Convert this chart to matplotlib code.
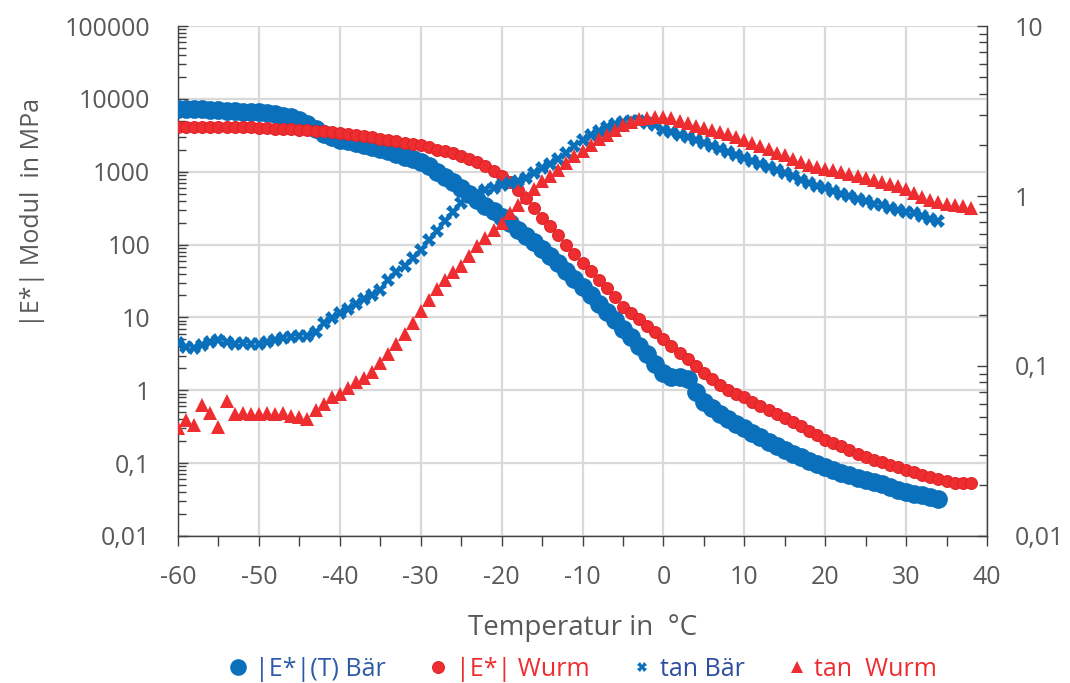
import matplotlib
matplotlib.use("Agg")
import matplotlib.pyplot as plt
from matplotlib.ticker import FixedLocator, NullFormatter, LogLocator, MultipleLocator
import numpy as np

plt.rcParams['font.family'] = ['Open Sans', 'DejaVu Sans']

# ---- data ----
temp_baer = list(range(-60, 35))   # -60 .. 34 °C
temp_wurm = list(range(-60, 39))   # -60 .. 38 °C

E_baer = [7300, 7300, 7250, 7200, 7100, 7000, 6900, 6800, 6700, 6600,
          6500, 6300, 6100, 5900, 5600, 5200, 4500, 3800, 3300, 3000,
          2750, 2600, 2450, 2350, 2200, 2050, 1900, 1750, 1600, 1480,
          1350, 1180, 1000, 850, 720, 590, 490, 410, 340, 285,
          240, 195, 160, 130, 108, 88, 70, 55, 43, 34,
          26, 20, 15.5, 12, 9.2, 7.0, 5.4, 4.1, 3.1, 2.3,
          1.7, 1.5, 1.5, 1.45, 0.95, 0.7, 0.57, 0.47, 0.4, 0.34,
          0.30, 0.26, 0.225, 0.195, 0.17, 0.15, 0.135, 0.12, 0.108, 0.098,
          0.089, 0.081, 0.074, 0.068, 0.063, 0.059, 0.055, 0.051, 0.047, 0.043,
          0.040, 0.038, 0.036, 0.034, 0.032]

E_wurm = [4150, 4150, 4150, 4100, 4100, 4100, 4100, 4050, 4050, 4050,
          4000, 3950, 3900, 3850, 3800, 3750, 3700, 3650, 3600, 3500,
          3400, 3300, 3200, 3100, 3000, 2850, 2700, 2600, 2500, 2400,
          2300, 2150, 2000, 1900, 1800, 1650, 1500, 1350, 1180, 1020,
          880, 720, 560, 430, 320, 235, 180, 135, 100, 75,
          56, 43, 33, 25, 19, 14, 11.5, 9.4, 7.7, 6.3,
          5.1, 4.1, 3.3, 2.7, 2.15, 1.75, 1.45, 1.2, 1.02, 0.9,
          0.80, 0.69, 0.60, 0.53, 0.47, 0.42, 0.37, 0.32, 0.28, 0.24,
          0.21, 0.19, 0.17, 0.15, 0.135, 0.123, 0.112, 0.103, 0.095, 0.088,
          0.081, 0.075, 0.069, 0.064, 0.060, 0.057, 0.054, 0.053, 0.054]

tan_baer = [0.136, 0.13, 0.128, 0.133, 0.138, 0.142, 0.138, 0.135, 0.136, 0.134,
            0.135, 0.138, 0.142, 0.146, 0.148, 0.150, 0.150, 0.158, 0.18, 0.192,
            0.204, 0.215, 0.232, 0.248, 0.262, 0.28, 0.32, 0.355, 0.39, 0.43,
            0.48, 0.55, 0.62, 0.71, 0.81, 0.91, 0.98, 1.04, 1.09, 1.12,
            1.16, 1.19, 1.22, 1.27, 1.36, 1.46, 1.55, 1.66, 1.80, 1.97,
            2.14, 2.27, 2.42, 2.55, 2.65, 2.72, 2.76, 2.76, 2.7, 2.6,
            2.45, 2.38, 2.3, 2.22, 2.14, 2.05, 1.97, 1.89, 1.81, 1.74,
            1.67, 1.61, 1.54, 1.48, 1.42, 1.36, 1.31, 1.25, 1.2, 1.15,
            1.11, 1.07, 1.03, 0.995, 0.96, 0.93, 0.9, 0.88, 0.85, 0.83,
            0.81, 0.79, 0.76, 0.73, 0.71]

tan_wurm = [0.043, 0.048, 0.045, 0.059, 0.053, 0.044, 0.062, 0.052, 0.053, 0.052,
            0.052, 0.053, 0.052, 0.053, 0.051, 0.05, 0.049, 0.055, 0.06, 0.066,
            0.068, 0.074, 0.08, 0.085, 0.092, 0.104, 0.118, 0.134, 0.155, 0.18,
            0.21, 0.245, 0.285, 0.32, 0.355, 0.39, 0.445, 0.51, 0.57, 0.63,
            0.69, 0.79, 0.88, 0.98, 1.1, 1.22, 1.31, 1.43, 1.57, 1.72,
            1.85, 2.0, 2.16, 2.3, 2.45, 2.6, 2.72, 2.83, 2.89, 2.93,
            2.92, 2.87, 2.78, 2.68, 2.59, 2.5, 2.44, 2.38, 2.32, 2.23,
            2.14, 2.04, 1.96, 1.88, 1.8, 1.74, 1.66, 1.58, 1.52, 1.48,
            1.45, 1.42, 1.38, 1.35, 1.31, 1.27, 1.24, 1.21, 1.18, 1.14,
            1.1, 1.04, 0.99, 0.95, 0.92, 0.9, 0.88, 0.87, 0.85]

left_ticks = [0.01, 0.1, 1, 10, 100, 1000, 10000, 100000]
left_labels = ['0,01', '0,1', '1', '10', '100', '1000', '10000', '100000']
right_ticks = [0.01, 0.1, 1, 10]
right_labels = ['0,01', '0,1', '1', '10']
x_ticks = [-60, -50, -40, -30, -20, -10, 0, 10, 20, 30, 40]

labels = ['|E*|(T) Bär', '|E*| Wurm', 'tan Bär', 'tan  Wurm']

# ---- styling ----
BLUE = '#0B70BB'
RED = '#EE2D30'
TXT = '#595959'
GRID = '#D9D9D9'
AXC = '#404040'

fig = plt.figure(figsize=(10.7, 6.83), dpi=100)
ax = fig.add_axes([178/1070, 1-536/683, 809/1070, 510/683])
ax.set_yscale('log')
ax.set_xlim(-60, 40)
ax.set_ylim(0.01, 100000)

ax.grid(True, which='major', color=GRID, linewidth=1.6, zorder=0)
ax.set_axisbelow(True)

h1, = ax.plot(temp_baer, E_baer, 'o', color=BLUE, markersize=13.5, markeredgewidth=0,
              linestyle='none', zorder=3)
h2, = ax.plot(temp_wurm, E_wurm, 'o', color=RED, markersize=8.5,
              markeredgecolor='#E02228', markeredgewidth=0.8, linestyle='none', zorder=4)

ax.yaxis.set_major_locator(FixedLocator(left_ticks))
ax.set_yticklabels(left_labels)
ax.yaxis.set_minor_locator(LogLocator(base=10, subs=np.arange(2, 10), numticks=20))
ax.yaxis.set_minor_formatter(NullFormatter())
ax.xaxis.set_major_locator(FixedLocator(x_ticks))
ax.set_xticklabels([str(v) for v in x_ticks])
ax.xaxis.set_minor_locator(MultipleLocator(5))

ax.tick_params(axis='y', which='both', direction='in', color=AXC, labelcolor=TXT,
               labelsize=18, pad=20)
ax.tick_params(axis='y', which='major', length=7, width=1)
ax.tick_params(axis='y', which='minor', length=6, width=1)
ax.tick_params(axis='x', which='both', direction='out', length=7, width=1, color=AXC,
               labelcolor=TXT, labelsize=18, pad=14)

for s in ['left', 'bottom']:
    ax.spines[s].set_color(AXC)
    ax.spines[s].set_linewidth(1.0)
ax.spines['top'].set_visible(False)
ax.spines['right'].set_visible(False)

ax2 = ax.twinx()
ax2.set_yscale('log')
ax2.set_ylim(0.01, 10)
h3, = ax2.plot(temp_baer, tan_baer, 'X', color=BLUE, markersize=9.5, markeredgewidth=0,
               linestyle='none', zorder=3)
h4, = ax2.plot(temp_wurm, tan_wurm, '^', color=RED, markersize=10.5, markeredgewidth=0,
               linestyle='none', zorder=4)
ax2.yaxis.set_major_locator(FixedLocator(right_ticks))
ax2.set_yticklabels(right_labels)
ax2.yaxis.set_minor_locator(LogLocator(base=10, subs=np.arange(2, 10), numticks=20))
ax2.yaxis.set_minor_formatter(NullFormatter())
ax2.tick_params(axis='y', which='both', direction='in', color=AXC, labelcolor=TXT,
                labelsize=18, pad=20)
ax2.tick_params(axis='y', which='major', length=7, width=1)
ax2.tick_params(axis='y', which='minor', length=6, width=1)
for s in ['left', 'bottom', 'top']:
    ax2.spines[s].set_visible(False)
ax2.spines['right'].set_color(AXC)
ax2.spines['right'].set_linewidth(1.0)
ax2.set_xlim(-60, 40)

ax.set_ylabel('|E*| Modul  in MPa', fontsize=18, color=TXT)
ax.yaxis.set_label_coords(-0.164, 0.635)
ax.set_xlabel('Temperatur in  °C', fontsize=20, color=TXT)
ax.xaxis.set_label_coords(0.5, -0.152)

leg = fig.legend([h1, h2, h3, h4], labels, loc='center', bbox_to_anchor=(0.542, 0.02),
                 ncol=4, frameon=False, fontsize=18, handletextpad=0.1,
                 columnspacing=1.5, handlelength=1.2, borderpad=0.1,
                 markerscale=1.0)
leg_colors = ['#2E5BA8', RED, '#2E4FA0', RED]
for t, c in zip(leg.get_texts(), leg_colors):
    t.set_color(c)
# legend markers sized like the reference
for lh, ms in zip(leg.legend_handles, [12, 8.5, 7, 8.5]):
    lh.set_markersize(ms)

fig.savefig('out.png', dpi=100)
